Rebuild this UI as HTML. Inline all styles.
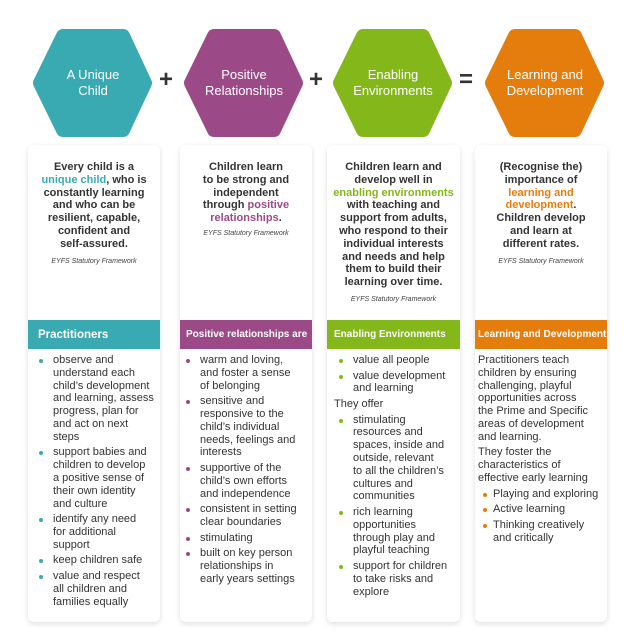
<!DOCTYPE html>
<html><head><meta charset="utf-8"><style>
body{margin:0;width:625px;height:642px;background:#fff;font-family:"Liberation Sans",sans-serif;position:relative;overflow:hidden;color:#333}
.card{position:absolute;top:145px;height:477px;background:#fff;border-radius:6px;box-shadow:0 2px 6px rgba(0,0,0,.13)}
.intro{position:absolute;text-align:center;font-weight:bold;font-size:11px;line-height:12.8px;white-space:nowrap;color:#333}
.src{position:absolute;text-align:center;font-style:italic;font-size:7px;color:#444;white-space:nowrap}
.bar{position:absolute;top:320px;height:29px;color:#fff;font-weight:bold;display:flex;align-items:center;white-space:nowrap}
.list{position:absolute;top:354px;font-size:11px;line-height:12.8px;white-space:nowrap;color:#333}
.list .i{position:relative;padding-left:19px;margin-bottom:2.8px}
.list .i:before{content:"";position:absolute;left:5px;top:5px;width:4px;height:4px;border-radius:50%;background:var(--c)}
.list .p{margin-bottom:2.8px}
.hx{position:absolute;color:#fff;font-size:13px;text-align:center;line-height:16px;white-space:nowrap}
.op{position:absolute;font-size:24px;font-weight:bold;color:#333}
</style></head><body>
<svg width="625" height="642" style="position:absolute;left:0;top:0">
<g stroke-linejoin="round" stroke-width="14">
<polygon points="63,36 123,36 145,83 123,130 63,130 40,83" fill="#3aaab2" stroke="#3aaab2"/>
<polygon transform="translate(151,0)" points="63,36 123,36 145,83 123,130 63,130 40,83" fill="#9b4a87" stroke="#9b4a87"/>
<polygon transform="translate(300,0)" points="63,36 123,36 145,83 123,130 63,130 40,83" fill="#84b71a" stroke="#84b71a"/>
<polygon transform="translate(452,0)" points="63,36 123,36 145,83 123,130 63,130 40,83" fill="#e57d0c" stroke="#e57d0c"/>
</g></svg>
<div class="hx" style="left:32px;width:122px;top:67px">A Unique<br>Child</div>
<div class="hx" style="left:183px;width:122px;top:67px">Positive<br>Relationships</div>
<div class="hx" style="left:332px;width:122px;top:67px">Enabling<br>Environments</div>
<div class="hx" style="left:484px;width:122px;top:67px">Learning and<br>Development</div>
<div class="op" style="left:159px;top:66px">+</div>
<div class="op" style="left:309px;top:66px">+</div>
<div class="op" style="left:459px;top:66px">=</div>

<div class="card" style="left:28px;width:132px"></div>
<div class="card" style="left:180px;width:132px"></div>
<div class="card" style="left:327px;width:133px"></div>
<div class="card" style="left:475px;width:132px"></div>

<div class="intro" style="left:28px;width:132px;top:161px">Every child is a<br><span style="color:#3aaab2">unique child</span>, who is<br>constantly learning<br>and who can be<br>resilient, capable,<br>confident and<br>self-assured.</div>
<div class="src" style="left:28px;width:132px;top:258px">EYFS Statutory Framework</div>
<div class="intro" style="left:180px;width:132px;top:161px">Children learn<br>to be strong and<br>independent<br>through <span style="color:#9b4a87">positive<br>relationships</span>.</div>
<div class="src" style="left:180px;width:132px;top:230px">EYFS Statutory Framework</div>
<div class="intro" style="left:327px;width:133px;top:161px">Children learn and<br>develop well in<br><span style="color:#84b71a">enabling environments</span><br>with teaching and<br>support from adults,<br>who respond to their<br>individual interests<br>and needs and help<br>them to build their<br>learning over time.</div>
<div class="src" style="left:327px;width:133px;top:296px">EYFS Statutory Framework</div>
<div class="intro" style="left:475px;width:132px;top:161px">(Recognise the)<br>importance of<br><span style="color:#e57d0c">learning and<br>development</span>.<br>Children develop<br>and learn at<br>different rates.</div>
<div class="src" style="left:475px;width:132px;top:258px">EYFS Statutory Framework</div>

<div class="bar" style="left:28px;width:132px;background:#3aaab2;font-size:11.5px;padding-left:10px;box-sizing:border-box">Practitioners</div>
<div class="bar" style="left:180px;width:132px;background:#9b4a87;font-size:10px;padding-left:6px;box-sizing:border-box">Positive relationships are</div>
<div class="bar" style="left:327px;width:133px;background:#84b71a;font-size:10px;padding-left:7px;box-sizing:border-box">Enabling Environments</div>
<div class="bar" style="left:475px;width:132px;background:#e57d0c;font-size:10px;padding-left:3px;box-sizing:border-box">Learning and Development</div>

<div class="list" style="left:34px;--c:#3aaab2">
<div class="i">observe and<br>understand each<br>child’s development<br>and learning, assess<br>progress, plan for<br>and act on next<br>steps</div>
<div class="i">support babies and<br>children to develop<br>a positive sense of<br>their own identity<br>and culture</div>
<div class="i">identify any need<br>for additional<br>support</div>
<div class="i">keep children safe</div>
<div class="i">value and respect<br>all children and<br>families equally</div>
</div>
<div class="list" style="left:181px;--c:#9b4a87">
<div class="i">warm and loving,<br>and foster a sense<br>of belonging</div>
<div class="i">sensitive and<br>responsive to the<br>child’s individual<br>needs, feelings and<br>interests</div>
<div class="i">supportive of the<br>child’s own efforts<br>and independence</div>
<div class="i">consistent in setting<br>clear boundaries</div>
<div class="i">stimulating</div>
<div class="i">built on key person<br>relationships in<br>early years settings</div>
</div>
<div class="list" style="left:334px;--c:#84b71a">
<div class="i">value all people</div>
<div class="i">value development<br>and learning</div>
<div class="p">They offer</div>
<div class="i">stimulating<br>resources and<br>spaces, inside and<br>outside, relevant<br>to all the children’s<br>cultures and<br>communities</div>
<div class="i">rich learning<br>opportunities<br>through play and<br>playful teaching</div>
<div class="i">support for children<br>to take risks and<br>explore</div>
</div>
<div class="list" style="left:478px;--c:#e57d0c">
<div class="p">Practitioners teach<br>children by ensuring<br>challenging, playful<br>opportunities across<br>the Prime and Specific<br>areas of development<br>and learning.</div>
<div class="p">They foster the<br>characteristics of<br>effective early learning</div>
<div class="i" style="padding-left:15px">Playing and exploring</div>
<div class="i" style="padding-left:15px">Active learning</div>
<div class="i" style="padding-left:15px">Thinking creatively<br>and critically</div>
</div>
</body></html>
